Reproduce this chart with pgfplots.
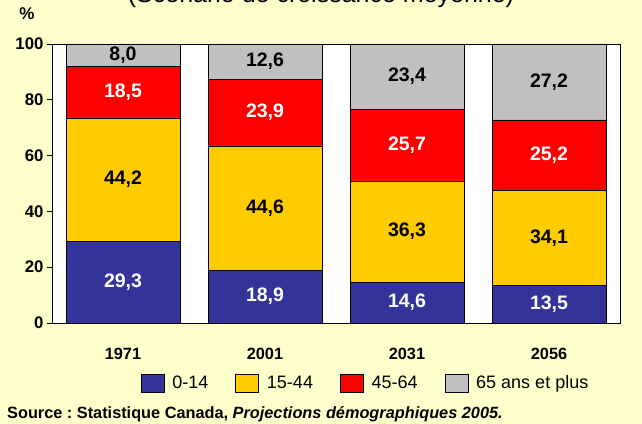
\documentclass[border=0pt]{standalone}
\usepackage{pgfplots}
\pgfplotsset{compat=1.18}
\usepackage{fontspec}
\setmainfont{Liberation Sans}
\frenchspacing
\definecolor{bgcol}{HTML}{FFFFCC}
\definecolor{cA}{HTML}{333399}
\definecolor{cB}{HTML}{FFCC00}
\definecolor{cC}{HTML}{FF0000}
\definecolor{cD}{HTML}{C0C0C0}
\pgfplotsset{
  legbox/.style={legend image code/.code={\draw[##1,draw=black,line width=0.6bp] (0bp,-9bp) rectangle (23bp,9bp);}},
}
\begin{document}
\begin{tikzpicture}
\path[use as bounding box] (0,0) rectangle (642bp,424bp);
\fill[bgcol] (0,0) rectangle (642bp,424bp);
\clip (0,0) rectangle (642bp,424bp);
\node[anchor=base, inner sep=0pt, font=\fontsize{25bp}{30bp}\selectfont] at (321bp,421.5bp) {(Scénario de croissance moyenne)};
\begin{axis}[
  at={(52bp,101bp)}, anchor=south west,
  scale only axis, width=568bp, height=279bp,
  ybar stacked, bar width=114bp,
  xmin=-0.5, xmax=3.5, ymin=0, ymax=100,
  xtick={0,1,2,3}, xticklabels={1971,2001,2031,2056},
  ytick={0,20,40,60,80,100},
  /pgf/number format/assume math mode=true,
  axis background/.style={fill=white},
  axis line style={black, line width=0.8bp},
  tick style={black, line width=0.8bp},
  major tick length=5bp, tick align=outside,
  xtick style={draw=none},
  ytick pos=left, xtick pos=bottom,
  yticklabel style={font=\bfseries\fontsize{16.8bp}{19bp}\selectfont},
  xticklabel style={font=\bfseries\fontsize{16.3bp}{19bp}\selectfont, anchor=center, yshift=-26bp},
  legend columns=4,
  legend style={at={(0.552,-0.215)}, anchor=center, draw=none, fill=none,
    font=\fontsize{18bp}{21bp}\selectfont,
    /tikz/every odd column/.append style={column sep=6bp},
    /tikz/every even column/.append style={column sep=25bp}},
]
\addplot[fill=cA, draw=black, line width=0.6bp, legbox] coordinates {(0,29.3) (1,18.9) (2,14.6) (3,13.5)};
\addplot[fill=cB, draw=black, line width=0.6bp, legbox] coordinates {(0,44.2) (1,44.6) (2,36.3) (3,34.1)};
\addplot[fill=cC, draw=black, line width=0.6bp, legbox] coordinates {(0,18.5) (1,23.9) (2,25.7) (3,25.2)};
\addplot[fill=cD, draw=black, line width=0.6bp, legbox] coordinates {(0,8.0) (1,12.6) (2,23.4) (3,27.2)};
\legend{0-14, 15-44, 45-64, 65 ans et plus}
\end{axis}
\begin{axis}[
  at={(52bp,101bp)}, anchor=south west,
  scale only axis, width=568bp, height=279bp,
  xmin=-0.5, xmax=3.5, ymin=0, ymax=100,
  hide axis, clip=false,
  nodes near coords, point meta=explicit symbolic,
  every node near coord/.append style={anchor=center, font=\bfseries\fontsize{19.5bp}{22bp}\selectfont},
]
\addplot[only marks, mark=none, every node near coord/.append style={text=white}] table[meta=lab] {
x y lab
0 14.65 29,3
1 9.45 18,9
2 7.3 14,6
3 6.75 13,5
};
\addplot[only marks, mark=none, every node near coord/.append style={text=black}] table[meta=lab] {
x y lab
0 51.4 44,2
1 41.2 44,6
2 32.75 36,3
3 30.55 34,1
};
\addplot[only marks, mark=none, every node near coord/.append style={text=white}] table[meta=lab] {
x y lab
0 82.75 18,5
1 75.45 23,9
2 63.75 25,7
3 60.2 25,2
};
\addplot[only marks, mark=none, every node near coord/.append style={text=black}] table[meta=lab] {
x y lab
0 96 8,0
1 93.7 12,6
2 88.3 23,4
3 86.4 27,2
};
\end{axis}
\node[font=\bfseries\fontsize{17bp}{20bp}\selectfont] at (27bp,410bp) {\%};
\node[anchor=base west, inner sep=0pt, font=\bfseries\fontsize{16.3bp}{19bp}\selectfont] at (7bp,6bp) {Source : Statistique Canada, \textit{Projections démographiques 2005.}};
\end{tikzpicture}
\end{document}
